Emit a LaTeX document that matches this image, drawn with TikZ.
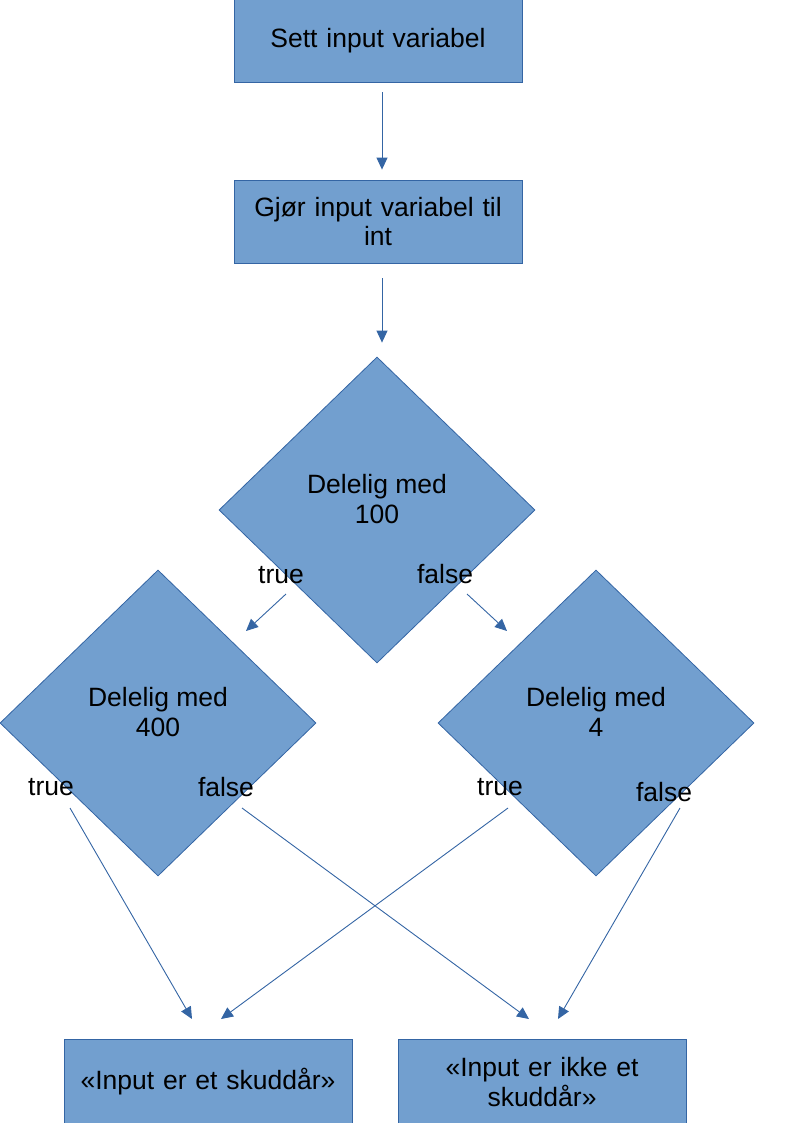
\documentclass[tikz,border=0pt]{standalone}
\usepackage{fontspec}
\setmainfont{Liberation Sans}
\usetikzlibrary{arrows.meta,shapes.geometric}
\definecolor{boxfill}{HTML}{729FCF}
\definecolor{boxline}{HTML}{3465A4}

\begin{document}
\begin{tikzpicture}[
        x=1pt, y=-1pt,
        font=\fontsize{26.5}{29.5}\selectfont,
        >=Triangle,
        stepbox/.style={draw=boxline, fill=boxfill, line width=0.8pt, align=center, text width=264pt, minimum width=288pt, inner sep=0pt},
        test/.style={diamond, draw=boxline, fill=boxfill, line width=0.8pt, minimum width=316pt, minimum height=306pt, inner sep=0pt,
            label={[align=center, yshift=11pt]center:#1}},
        answer/.style={inner sep=0pt},
        link/.style={draw=boxline, line width=0.9pt, -{Triangle[length=12pt,width=11pt]}}
    ]
        \useasboundingbox (0,0) rectangle (794,1123);

        \node[stepbox, minimum height=86pt] (set) at (378,39) {\raisebox{-9pt}[0pt][0pt]{Sett input variabel}};
        \node[stepbox, minimum height=83pt] (toint) at (378,221.5) {Gjør input variabel til\\int};

        \node[test={Delelig med\\100}] (d100) at (377,510) {};
        \node[test={Delelig med\\400}] (d400) at (158,723) {};
        \node[test={Delelig med\\4}] (d4) at (596,723) {};

        \node[stepbox, minimum height=86pt] (yes) at (208,1082) {«Input er et skuddår»};
        \node[stepbox, minimum height=86pt] (no) at (542,1082) {«Input er ikke et\\skuddår»};

        % svar ved hver test
        \node[answer] (t100) at (281,575) {true};
        \node[answer] (f100) at (445,574) {false};
        \node[answer] (t400) at (51,787) {true};
        \node[answer] (f400) at (226,787) {false};
        \node[answer] (t4) at (500,787) {true};
        \node[answer] (f4) at (664,792) {false};

        % endepunkter for pilene
        \coordinate (t100-a) at (286,594);
        \coordinate (t100-b) at (246,631);
        \coordinate (f100-a) at (467,594);
        \coordinate (f100-b) at (507,631);
        \coordinate (t400-a) at (70,808);
        \coordinate (yes-a) at (192,1019);
        \coordinate (f400-a) at (242,808);
        \coordinate (no-a) at (529,1019);
        \coordinate (t4-a) at (508,808);
        \coordinate (yes-b) at (221,1019);
        \coordinate (f4-a) at (680,808);
        \coordinate (no-b) at (558,1019);

        \draw[link, shorten <=10pt, shorten >=10pt] ([xshift=4pt]set.south) -- ([xshift=4pt]toint.north);
        \draw[link, shorten <=15pt, shorten >=14pt] ([xshift=4pt]toint.south) -- ([xshift=4pt]toint.south |- d100.north);
        \draw[link] (t100-a) -- (t100-b);
        \draw[link] (f100-a) -- (f100-b);
        \draw[link] (t400-a) -- (yes-a);
        \draw[link] (f400-a) -- (no-a);
        \draw[link] (t4-a) -- (yes-b);
        \draw[link] (f4-a) -- (no-b);
    \end{tikzpicture}
\end{document}
